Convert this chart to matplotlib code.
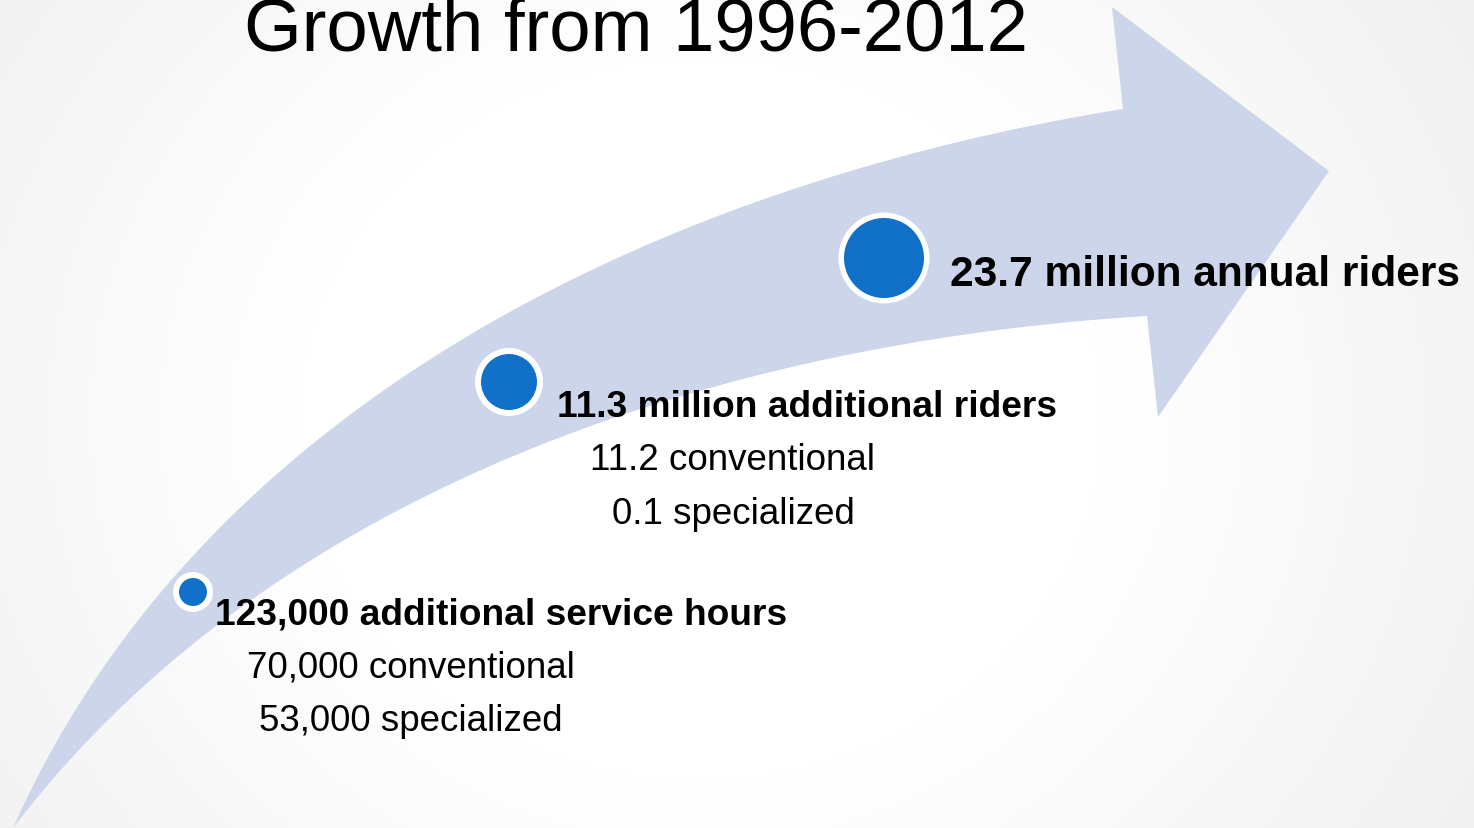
import matplotlib.pyplot as plt
import numpy as np
from matplotlib.patches import Polygon, Circle

plt.rcParams['font.family'] = ['Liberation Sans', 'DejaVu Sans']

# ---- content ----
title = "Growth from 1996-2012"
headlines = ["123,000 additional service hours",
             "11.3 million additional riders",
             "23.7 million annual riders"]
details = [["70,000 conventional", "53,000 specialized"],
           ["11.2 conventional", "0.1 specialized"],
           []]

# ---- layout (pixel coords, y down) ----
W, H = 1474, 829
dot_x = [193, 509, 884]
dot_y = [593, 383, 259]
dot_r = [14, 28, 40]
ring = [6, 6, 5.5]
head_x = [215, 557, 950]
head_y = [624, 417, 286]
head_size = [26.7, 26.7, 30.6]
detail_cx = [411, 733]
line_gap = 53.5

# arrow outline
upper_edge = [(13, 829), (43, 763), (83, 697), (133, 630), (187, 563), (263, 497),
              (330, 430), (367, 400), (433, 350), (533, 300), (600, 270), (705, 220),
              (810, 187), (916, 157), (1021, 130), (1123, 110)]
lower_edge = [(13, 829), (63, 763), (130, 697), (207, 630), (250, 600), (433, 503),
              (550, 443), (705, 387), (810, 363), (916, 343), (1021, 328), (1147, 317)]
head = [(1123, 110), (1112, 8), (1329, 172), (1158, 418), (1147, 317)]

ARROW = '#CDD5EA'
BLUE = '#1170C8'


def bezier_fit(pts, n=300):
    # least-squares cubic bezier with fixed ends
    pts = np.asarray(pts, float)
    d = np.r_[0, np.cumsum(np.hypot(*np.diff(pts, axis=0).T))]
    t = d / d[-1]
    b0, b1, b2, b3 = (1 - t)**3, 3*t*(1 - t)**2, 3*t**2*(1 - t), t**3
    rhs = pts - np.outer(b0, pts[0]) - np.outer(b3, pts[-1])
    ctrl, *_ = np.linalg.lstsq(np.c_[b1, b2], rhs, rcond=None)
    tt = np.linspace(0, 1, n)
    return (np.outer((1 - tt)**3, pts[0]) + np.outer(3*tt*(1 - tt)**2, ctrl[0])
            + np.outer(3*tt**2*(1 - tt), ctrl[1]) + np.outer(tt**3, pts[-1]))


fig = plt.figure(figsize=(W / 100, H / 100), dpi=100)
ax = fig.add_axes([0, 0, 1, 1])
ax.set_xlim(0, W)
ax.set_ylim(H, 0)
ax.axis('off')

# soft radial background
yy, xx = np.mgrid[0:H:2, 0:W:2]
r = np.hypot((xx - 700) / 1.0, (yy - 420) / 0.9)
shade = 1 - 0.055 * np.clip((r - 400) / 500, 0, 1)
ax.imshow(np.dstack([shade] * 3), extent=(0, W, H, 0), zorder=0, aspect='auto')

up = bezier_fit(upper_edge)
lo = bezier_fit(lower_edge)
outline = np.vstack([up, np.array(head[1:4], float), lo[::-1]])
ax.add_patch(Polygon(outline, closed=True, facecolor=ARROW, edgecolor='none', zorder=1))

for i in range(3):
    ax.add_patch(Circle((dot_x[i], dot_y[i]), dot_r[i] + ring[i], facecolor='white',
                        edgecolor='none', zorder=2))
    ax.add_patch(Circle((dot_x[i], dot_y[i]), dot_r[i], facecolor=BLUE,
                        edgecolor='none', zorder=3))
    ax.text(head_x[i], head_y[i], headlines[i], fontsize=head_size[i], fontweight='bold',
            ha='left', va='baseline', color='black', zorder=4)
    for j, line in enumerate(details[i]):
        ax.text(detail_cx[i], head_y[i] + line_gap * (j + 1), line, fontsize=26.5,
                ha='center', va='baseline', color='black', zorder=4)

# title runs off the top edge in the original slide too
ax.text(636, 50, title, fontsize=53.5, ha='center', va='baseline', color='black', zorder=4)

fig.savefig('out.png', dpi=100)
